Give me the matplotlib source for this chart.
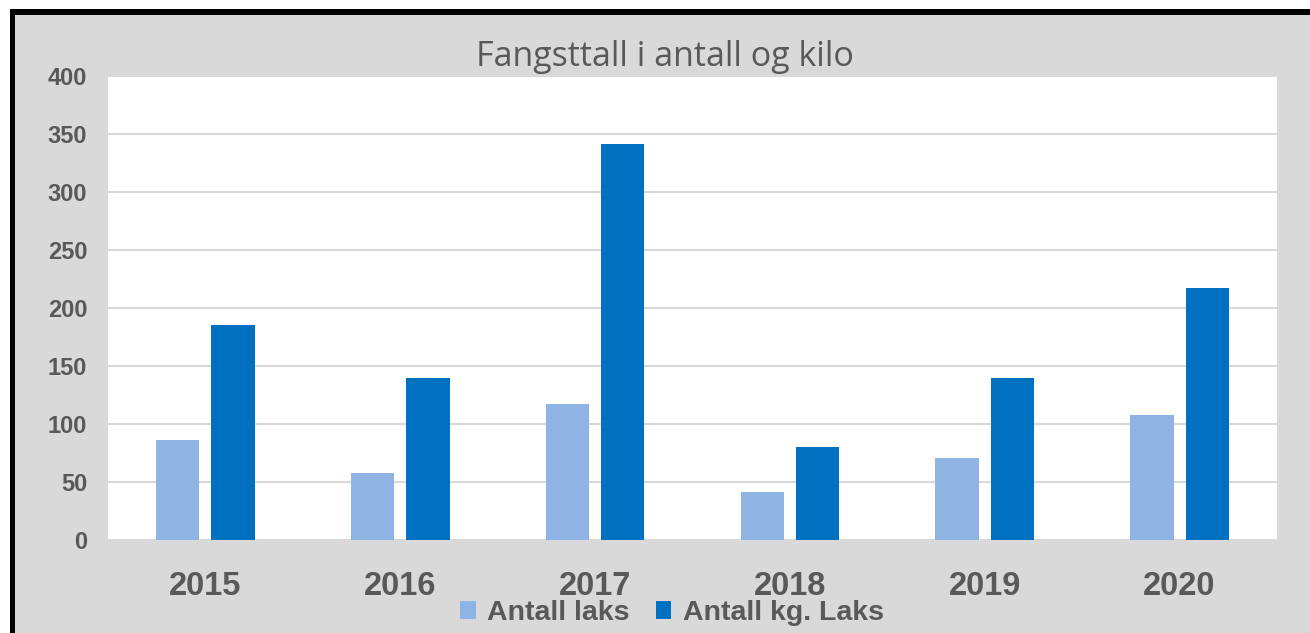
import matplotlib
matplotlib.use("Agg")
import matplotlib.pyplot as plt
import numpy as np
from matplotlib.patches import Rectangle

years = ["2015", "2016", "2017", "2018", "2019", "2020"]
antall_laks = [86, 58, 117, 41, 71, 108]
antall_kg = [185, 140, 341, 80, 140, 217]
yticks = [0, 50, 100, 150, 200, 250, 300, 350, 400]

W, H = 1310, 633
fig = plt.figure(figsize=(W / 100, H / 100), dpi=100)
fig.patch.set_facecolor("white")

# grey chart background and black frame (left/top)
fig.patches.append(Rectangle((10 / W, 0), 1 - 10 / W, 1 - 9 / H, transform=fig.transFigure,
                             facecolor="#D9D9D9", edgecolor="none", zorder=-10))
fig.patches.append(Rectangle((10 / W, 0), 5 / W, 1 - 9 / H, transform=fig.transFigure,
                             facecolor="black", edgecolor="none", zorder=-9))
fig.patches.append(Rectangle((10 / W, 1 - 15 / H), 1 - 10 / W, 6 / H, transform=fig.transFigure,
                             facecolor="black", edgecolor="none", zorder=-9))

left, right, top, bottom = 108, 1277, 76, 540
ax = fig.add_axes([left / W, (H - bottom) / H, (right - left) / W, (bottom - top) / H])
ax.set_zorder(1)
ax.set_facecolor("white")

x = np.arange(len(years))
bw = 0.223
off = 0.142
ax.bar(x - off, antall_laks, width=bw, color="#8FB4E3", label="Antall laks", zorder=3)
ax.bar(x + off, antall_kg, width=bw, color="#0070C0", label="Antall kg. Laks", zorder=3)

ax.set_xlim(-0.5, len(years) - 0.5)
ax.set_ylim(0, 400)
ax.set_yticks(yticks)
ax.set_yticklabels([str(v) for v in yticks], fontsize=17, fontweight="bold",
                   color="#595959", family="Liberation Sans")
ax.set_xticks(x)
ax.set_xticklabels(years, fontsize=23.5, fontweight="bold", color="#595959",
                   family="Liberation Sans")
for lbl in ax.get_xticklabels():
    lbl.set_verticalalignment("baseline")
ax.tick_params(axis="y", length=0, pad=15)
ax.tick_params(axis="x", length=0, pad=39.5)
ax.grid(axis="y", color="#D9D9D9", linewidth=1.5, zorder=0)
for s in ["top", "right", "left"]:
    ax.spines[s].set_visible(False)
ax.spines["bottom"].set_color("#D9D9D9")
ax.spines["bottom"].set_linewidth(1.5)

fig.text(665 / W, 1 - 57 / H, "Fangsttall i antall og kilo", ha="center", va="center",
         fontsize=24.5, color="#595959", family="Open Sans")

leg = fig.legend(loc="center", bbox_to_anchor=(672 / W, 1 - 613 / H), ncol=2, frameon=False,
                 prop={"family": "Liberation Sans", "weight": "bold", "size": 20.5},
                 handlelength=0.55, handleheight=0.55, handletextpad=0.4, columnspacing=0.9,
                 labelcolor="#595959", borderpad=0.0)

fig.savefig("out.png", dpi=100)
